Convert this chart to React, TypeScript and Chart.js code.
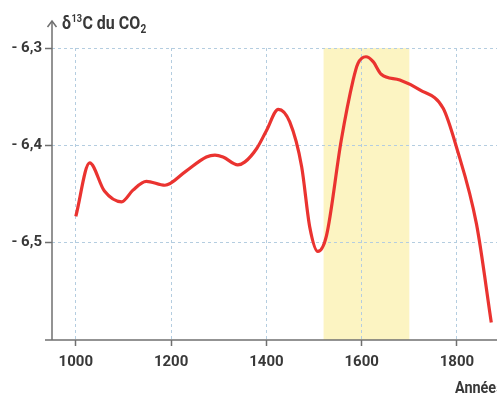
import React, { useEffect, useRef } from "react";
import { Chart, registerables } from "chart.js";

Chart.register(...registerables);

const years = [1000, 1029, 1060, 1096, 1120, 1148, 1187, 1230, 1274, 1292, 1309, 1340, 1355, 1380, 1400, 1425, 1449, 1474, 1491, 1508, 1526, 1557, 1582, 1592, 1609, 1624, 1641, 1680, 1722, 1771, 1799, 1841, 1872];
const delta13C = [-6.473, -6.418, -6.447, -6.458, -6.446, -6.437, -6.441, -6.427, -6.412, -6.41, -6.412, -6.42, -6.417, -6.403, -6.385, -6.363, -6.376, -6.422, -6.484, -6.509, -6.493, -6.395, -6.333, -6.316, -6.309, -6.314, -6.327, -6.333, -6.343, -6.362, -6.402, -6.481, -6.582];
const xTicks = [1000, 1200, 1400, 1600, 1800];
const yTicks = [-6.5, -6.4, -6.3];
const bandStart = 1520;
const bandEnd = 1700;

const FONT = "Roboto";
const TEXT = "#383838";
const AXIS = "#6f6f6f";
const GRID = "#b4cde0";

const decorPlugin = {
  id: "decor",
  beforeDraw(chart: any) {
    const { ctx, chartArea, scales } = chart;
    const x = scales.x;
    ctx.save();
    ctx.fillStyle = "#fcf4c2";
    const x0 = x.getPixelForValue(bandStart);
    const x1 = x.getPixelForValue(bandEnd);
    ctx.fillRect(x0, chartArea.top, x1 - x0, chartArea.bottom - chartArea.top);
    ctx.restore();
  },
  afterDraw(chart: any) {
    const { ctx, chartArea } = chart;
    const L = chartArea.left;
    const B = chartArea.bottom;
    ctx.save();
    ctx.strokeStyle = AXIS;
    ctx.lineWidth = 1.5;
    // x axis
    ctx.beginPath();
    ctx.moveTo(L - 7, B);
    ctx.lineTo(chart.width, B);
    ctx.stroke();
    // y axis with arrow
    const topY = 21;
    ctx.beginPath();
    ctx.moveTo(L, B);
    ctx.lineTo(L, topY);
    ctx.stroke();
    ctx.beginPath();
    ctx.moveTo(L - 4.5, topY + 6);
    ctx.lineTo(L, topY);
    ctx.lineTo(L + 4.5, topY + 6);
    ctx.stroke();

    // title δ13C du CO2
    ctx.fillStyle = TEXT;
    ctx.textBaseline = "alphabetic";
    ctx.textAlign = "left";
    const sx = 0.84;
    ctx.translate(L + 10, 0);
    ctx.scale(sx, 1);
    let cx = 0;
    const base = 29;
    ctx.font = `bold 19px ${FONT}`;
    ctx.fillText("δ", cx, base);
    cx += ctx.measureText("δ").width + 0.5;
    ctx.font = `bold 11px ${FONT}`;
    ctx.fillText("13", cx, base - 7.5);
    cx += ctx.measureText("13").width + 0.5;
    ctx.font = `bold 19px ${FONT}`;
    ctx.fillText("C du CO", cx, base);
    cx += ctx.measureText("C du CO").width + 0.5;
    ctx.font = `bold 12px ${FONT}`;
    ctx.fillText("2", cx, base + 4);
    ctx.setTransform(1, 0, 0, 1, 0, 0);

    // x axis title
    ctx.translate(455, 0);
    ctx.scale(0.9, 1);
    ctx.font = `bold 16px ${FONT}`;
    ctx.textBaseline = "middle";
    ctx.fillText("Années", 0, 389);
    ctx.restore();
  },
};

export default function App() {
  const ref = useRef<HTMLCanvasElement | null>(null);
  useEffect(() => {
    document.body.style.margin = "0";
    const canvas = ref.current!;
    const chart = new Chart(canvas, {
      type: "line",
      data: {
        datasets: [
          {
            data: years.map((y, i) => ({ x: y, y: delta13C[i] })),
            borderColor: "#ea3330",
            borderWidth: 3.2,
            pointRadius: 0,
            fill: false,
            cubicInterpolationMode: "monotone",
          },
        ],
      },
      options: {
        animation: false,
        responsive: false,
        devicePixelRatio: 1,
        layout: { padding: { top: 48, left: 0, right: 0, bottom: 0 } },
        plugins: { legend: { display: false }, tooltip: { enabled: false }, title: { display: false } },
        scales: {
          x: {
            type: "linear",
            min: 950,
            max: 1884,
            afterBuildTicks: (s: any) => {
              s.ticks = xTicks.map((v) => ({ value: v }));
            },
            afterFit: (s: any) => {
              s.height = 57;
            },
            border: { display: false, dash: [3, 3] },
            grid: {
              color: GRID,
              lineWidth: 1,
              drawTicks: true,
              tickLength: 6,
              tickColor: AXIS,
              tickWidth: 1.5,
            },
            ticks: {
              color: TEXT,
              font: { family: FONT, size: 15, weight: "bold" },
              padding: 7,
              maxRotation: 0,
              autoSkip: false,
              callback: (v: any) => String(v),
            },
          },
          y: {
            type: "linear",
            min: -6.6,
            max: -6.3,
            afterBuildTicks: (s: any) => {
              s.ticks = yTicks.map((v) => ({ value: v }));
            },
            afterFit: (s: any) => {
              s.width = 52;
            },
            border: { display: false, dash: [3, 3] },
            grid: {
              color: GRID,
              lineWidth: 1,
              drawTicks: true,
              tickLength: 7,
              tickColor: AXIS,
              tickWidth: 1.5,
            },
            ticks: {
              color: TEXT,
              font: { family: FONT, size: 15, weight: "bold" },
              padding: 3,
              autoSkip: false,
              callback: (v: any) => "- " + Math.abs(v).toFixed(1).replace(".", ","),
            },
          },
        },
      },
      plugins: [decorPlugin],
    });
    return () => chart.destroy();
  }, []);
  return (
    <div style={{ position: "absolute", left: 0, top: 0, width: 497, height: 397, background: "#fff" }}>
      <canvas ref={ref} width={497} height={397} style={{ display: "block" }} />
    </div>
  );
}
